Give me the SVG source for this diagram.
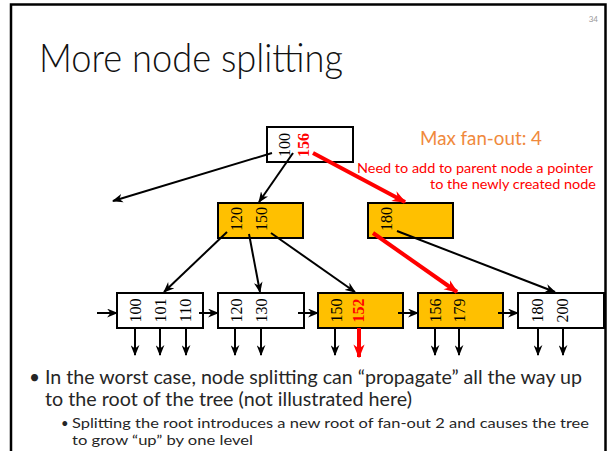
<svg xmlns="http://www.w3.org/2000/svg" width="610" height="451" viewBox="0 0 610 451">
<style>
.frame{fill:#fff;stroke:#000;stroke-width:2.5}
.node{stroke:#000;stroke-width:2}
.white{fill:#fff}
.gold{fill:#FFC000}
.key{font-family:"Liberation Serif","Times New Roman",serif;font-size:16px;fill:#000}
.hot{fill:#FF0000;font-weight:bold}
.ln{stroke:#000;stroke-width:2;fill:none;marker-end:url(#ah)}
.red{stroke:#FF0000;stroke-width:4;fill:none;marker-end:url(#ahr)}
.sans{font-family:Lato,"Liberation Sans",sans-serif}
</style>
<defs>
<marker id="ah" viewBox="0 0 10 8" refX="9" refY="4" markerWidth="11" markerHeight="9" markerUnits="userSpaceOnUse" orient="auto">
<path d="M0,0 L10,4 L0,8 L3,4 z" fill="#000"/>
</marker>
<marker id="ahr" viewBox="0 0 10 8" refX="9" refY="4" markerWidth="14" markerHeight="12" markerUnits="userSpaceOnUse" orient="auto">
<path d="M0,0 L10,4 L0,8 L3,4 z" fill="#FF0000"/>
</marker>
</defs>
<rect class="frame" x="11" y="4.5" width="594.5" height="460"/>
<text class="sans" x="598" y="22" font-size="8" fill="#999" text-anchor="end">34</text>
<text class="sans" x="39" y="72" font-size="39" font-weight="300" fill="#111" textLength="304" lengthAdjust="spacingAndGlyphs">More node splitting</text>
<text class="sans" x="420" y="145" font-size="18.5" fill="#F0893C" textLength="122" lengthAdjust="spacingAndGlyphs">Max fan-out: 4</text>
<text class="sans" x="357" y="172.5" font-size="14" fill="#FF0000" textLength="236" lengthAdjust="spacingAndGlyphs">Need to add to parent node a pointer</text>
<text class="sans" x="430" y="188.5" font-size="14" fill="#FF0000" textLength="166" lengthAdjust="spacingAndGlyphs">to the newly created node</text>

<g id="root">
<rect class="node white" x="267" y="127" width="86" height="35"/>
<text class="key" transform="translate(289.5,145) rotate(-90)" text-anchor="middle">100</text>
<text class="key hot" transform="translate(308.5,145) rotate(-90)" text-anchor="middle">156</text>
</g>
<g id="mid-left">
<rect class="node gold" x="218" y="203" width="85" height="35"/>
<text class="key" transform="translate(241.5,219) rotate(-90)" text-anchor="middle">120</text>
<text class="key" transform="translate(266.5,219) rotate(-90)" text-anchor="middle">150</text>
</g>
<g id="mid-right">
<rect class="node gold" x="368" y="203" width="85" height="35"/>
<text class="key" transform="translate(391.5,219) rotate(-90)" text-anchor="middle">180</text>
</g>
<g id="leaf1">
<rect class="node white" x="117" y="293" width="86" height="35"/>
<text class="key" transform="translate(140.5,310.5) rotate(-90)" text-anchor="middle">100</text>
<text class="key" transform="translate(165.5,310.5) rotate(-90)" text-anchor="middle">101</text>
<text class="key" transform="translate(190.5,310.5) rotate(-90)" text-anchor="middle">110</text>
</g>
<g id="leaf2">
<rect class="node white" x="218" y="293" width="86" height="35"/>
<text class="key" transform="translate(241.5,310.5) rotate(-90)" text-anchor="middle">120</text>
<text class="key" transform="translate(266.5,310.5) rotate(-90)" text-anchor="middle">130</text>
</g>
<g id="leaf3">
<rect class="node gold" x="318" y="293" width="85" height="35"/>
<text class="key" transform="translate(341.5,310.5) rotate(-90)" text-anchor="middle">150</text>
<text class="key hot" transform="translate(364,310.5) rotate(-90)" text-anchor="middle">152</text>
</g>
<g id="leaf4">
<rect class="node gold" x="418" y="293" width="85" height="35"/>
<text class="key" transform="translate(440.5,310.5) rotate(-90)" text-anchor="middle">156</text>
<text class="key" transform="translate(464.5,310.5) rotate(-90)" text-anchor="middle">179</text>
</g>
<g id="leaf5">
<rect class="node white" x="518" y="293" width="86" height="35"/>
<text class="key" transform="translate(543,310.5) rotate(-90)" text-anchor="middle">180</text>
<text class="key" transform="translate(568,310.5) rotate(-90)" text-anchor="middle">200</text>
</g>

<g id="connectors">
<line class="ln" x1="272" y1="153" x2="113" y2="201"/>
<line class="ln" x1="293" y1="153" x2="259" y2="202"/>
<line class="red" x1="313" y1="153" x2="405" y2="202"/>
<line class="ln" x1="227" y1="232" x2="164" y2="292"/>
<line class="ln" x1="249" y1="234" x2="260" y2="292"/>
<line class="ln" x1="271" y1="233" x2="355" y2="292"/>
<line class="red" x1="373" y1="233" x2="457" y2="292"/>
<line class="ln" x1="397" y1="231" x2="555" y2="292"/>
<line class="ln" x1="97" y1="313" x2="117" y2="313"/>
<line class="ln" x1="199" y1="313" x2="218" y2="313"/>
<line class="ln" x1="298" y1="313" x2="318" y2="313"/>
<line class="ln" x1="398" y1="313" x2="418" y2="313"/>
<line class="ln" x1="498" y1="313" x2="518" y2="313"/>
<line class="ln" x1="135" y1="328" x2="135" y2="355"/>
<line class="ln" x1="160" y1="328" x2="160" y2="355"/>
<line class="ln" x1="186" y1="328" x2="186" y2="355"/>
<line class="ln" x1="235" y1="328" x2="235" y2="355"/>
<line class="ln" x1="261" y1="328" x2="261" y2="355"/>
<line class="ln" x1="335" y1="328" x2="335" y2="355"/>
<line class="red" x1="359" y1="328" x2="359" y2="357"/>
<line class="ln" x1="435" y1="328" x2="435" y2="355"/>
<line class="ln" x1="459" y1="328" x2="459" y2="355"/>
<line class="ln" x1="538" y1="328" x2="538" y2="355"/>
<line class="ln" x1="563" y1="328" x2="563" y2="355"/>
</g>

<g class="sans" fill="#262626">
<text x="29" y="384" font-size="19">•</text>
<text x="45" y="384" font-size="19" textLength="537" lengthAdjust="spacingAndGlyphs">In the worst case, node splitting can “propagate” all the way up</text>
<text x="45" y="406" font-size="19" textLength="367" lengthAdjust="spacingAndGlyphs">to the root of the tree (not illustrated here)</text>
<text x="61" y="428" font-size="13">•</text>
<text x="72" y="428" font-size="14" textLength="517" lengthAdjust="spacingAndGlyphs">Splitting the root introduces a new root of fan-out 2 and causes the tree</text>
<text x="72" y="445" font-size="14" textLength="181" lengthAdjust="spacingAndGlyphs">to grow “up” by one level</text>
</g>
</svg>
